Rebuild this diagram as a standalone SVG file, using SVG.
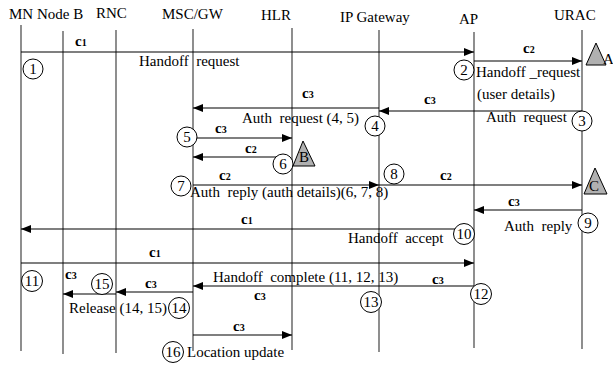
<svg xmlns="http://www.w3.org/2000/svg" width="613" height="366" viewBox="0 0 613 366">
<defs>
<marker id="ah" markerWidth="10" markerHeight="8" refX="10" refY="4" orient="auto" markerUnits="userSpaceOnUse">
<path d="M0,0 L10,4 L0,8 Z" fill="#000"/>
</marker>
<style>
text{font-family:"Liberation Serif","Times New Roman",serif;font-size:15px;fill:#000;white-space:pre}
.hd{font-size:15px}
.c{font-weight:bold;font-size:15px}
.c tspan{font-size:10px}
.life{stroke:#444;stroke-width:1.2}
.msg{stroke:#000;stroke-width:1.2;fill:none;marker-end:url(#ah)}
.num circle{fill:#fff;stroke:#000;stroke-width:1}
.num text{text-anchor:middle}
.tri{fill:#b0b0b0;stroke:#000;stroke-width:1}
</style>
</defs>
<rect width="613" height="366" fill="#fff"/>
<g id="lifelines">
<g id="MN"><text class="hd" x="9" y="19">MN</text><line class="life" x1="21" y1="25" x2="21" y2="351"/></g>
<g id="NodeB"><text class="hd" x="37" y="19">Node B</text><line class="life" x1="63" y1="31" x2="63" y2="354"/></g>
<g id="RNC"><text class="hd" x="96" y="18">RNC</text><line class="life" x1="116" y1="30" x2="116" y2="353"/></g>
<g id="MSCGW"><text class="hd" x="162" y="19">MSC/GW</text><line class="life" x1="193" y1="29" x2="193" y2="351"/></g>
<g id="HLR"><text class="hd" x="261" y="20">HLR</text><line class="life" x1="292" y1="28" x2="292" y2="350"/></g>
<g id="IPGateway"><text class="hd" x="340" y="22">IP Gateway</text><line class="life" x1="379" y1="30" x2="379" y2="352"/></g>
<g id="AP"><text class="hd" x="459" y="24">AP</text><line class="life" x1="474" y1="32" x2="474" y2="348"/></g>
<g id="URAC"><text class="hd" x="554" y="20">URAC</text><line class="life" x1="582" y1="30" x2="582" y2="349"/></g>
</g>
<g id="connectors">
<line class="msg" x1="21" y1="52" x2="474" y2="52"/>
<line class="msg" x1="474" y1="61" x2="582" y2="61"/>
<line class="msg" x1="379" y1="108" x2="193" y2="108"/>
<line class="msg" x1="582" y1="111" x2="379" y2="111"/>
<line class="msg" x1="193" y1="138" x2="292" y2="138"/>
<line class="msg" x1="282" y1="157" x2="193" y2="157"/>
<line class="msg" x1="193" y1="185" x2="379" y2="185"/>
<line class="msg" x1="379" y1="185" x2="582" y2="185"/>
<line class="msg" x1="582" y1="210" x2="474" y2="210"/>
<line class="msg" x1="455" y1="229" x2="21" y2="229"/>
<line class="msg" x1="21" y1="263" x2="474" y2="263"/>
<line class="msg" x1="474" y1="286" x2="193" y2="286"/>
<line class="msg" x1="193" y1="292" x2="116" y2="292"/>
<line class="msg" x1="116" y1="294" x2="63" y2="294"/>
<line class="msg" x1="193" y1="335" x2="292" y2="335"/>
</g>
<g id="labels">
<text class="c" x="75" y="46">c<tspan>1</tspan></text>
<text x="139" y="66">Handoff  request</text>
<text class="c" x="523" y="53">c<tspan>2</tspan></text>
<text x="476" y="77">Handoff _request</text>
<text x="477" y="99">(user details)</text>
<text class="c" x="302" y="98">c<tspan>3</tspan></text>
<text class="c" x="424" y="104">c<tspan>3</tspan></text>
<text x="242" y="123">Auth  request (4, 5)</text>
<text x="486" y="122">Auth  request</text>
<text class="c" x="215" y="133">c<tspan>3</tspan></text>
<text class="c" x="245" y="153">c<tspan>2</tspan></text>
<text class="c" x="219" y="180">c<tspan>2</tspan></text>
<text x="190" y="197">Auth  reply (auth details)(6, 7, 8)</text>
<text class="c" x="440" y="180">c<tspan>2</tspan></text>
<text class="c" x="508" y="206">c<tspan>3</tspan></text>
<text x="504" y="231">Auth  reply</text>
<text class="c" x="241" y="224">c<tspan>1</tspan></text>
<text x="348" y="243">Handoff  accept</text>
<text class="c" x="149" y="257">c<tspan>1</tspan></text>
<text x="213" y="282">Handoff  complete (11, 12, 13)</text>
<text class="c" x="432" y="284">c<tspan>3</tspan></text>
<text class="c" x="254" y="300">c<tspan>3</tspan></text>
<text class="c" x="145" y="288">c<tspan>3</tspan></text>
<text class="c" x="65" y="279">c<tspan>3</tspan></text>
<text x="69" y="313">Release (14, 15)</text>
<text class="c" x="233" y="331">c<tspan>3</tspan></text>
<text x="187" y="357">Location update</text>
</g>
<g id="triangles">
<g id="A"><polygon class="tri" points="596,43 586,65 606,65"/><text x="603" y="64">A</text></g>
<g id="B"><polygon class="tri" points="303,141 293,166 315,166"/><text x="299" y="162">B</text></g>
<g id="C"><polygon class="tri" points="595,168 584,194 607,194"/><text x="589" y="191">C</text></g>
</g>
<g id="steps" class="num">
<g id="s1"><circle cx="33" cy="69" r="10"/><text x="33" y="74">1</text></g>
<g id="s2"><circle cx="464" cy="70" r="10"/><text x="464" y="75">2</text></g>
<g id="s3"><circle cx="582" cy="121" r="10"/><text x="582" y="126">3</text></g>
<g id="s4"><circle cx="375" cy="126" r="10"/><text x="375" y="131">4</text></g>
<g id="s5"><circle cx="187" cy="137" r="10"/><text x="187" y="142">5</text></g>
<g id="s6"><circle cx="283" cy="164" r="10"/><text x="283" y="169">6</text></g>
<g id="s7"><circle cx="181" cy="186" r="10"/><text x="181" y="191">7</text></g>
<g id="s8"><circle cx="394" cy="174" r="10"/><text x="394" y="179">8</text></g>
<g id="s9"><circle cx="588" cy="223" r="10"/><text x="588" y="228">9</text></g>
<g id="s10"><circle cx="464" cy="234" r="10.5"/><text x="464" y="239">10</text></g>
<g id="s11"><circle cx="32" cy="281" r="10.5"/><text x="32" y="286">11</text></g>
<g id="s12"><circle cx="481" cy="294" r="10.5"/><text x="481" y="299">12</text></g>
<g id="s13"><circle cx="371" cy="302" r="10.5"/><text x="371" y="307">13</text></g>
<g id="s14"><circle cx="179" cy="308" r="10.5"/><text x="179" y="313">14</text></g>
<g id="s15"><circle cx="102" cy="284" r="10.5"/><text x="102" y="289">15</text></g>
<g id="s16"><circle cx="173" cy="352" r="10.5"/><text x="173" y="357">16</text></g>
</g>
</svg>
